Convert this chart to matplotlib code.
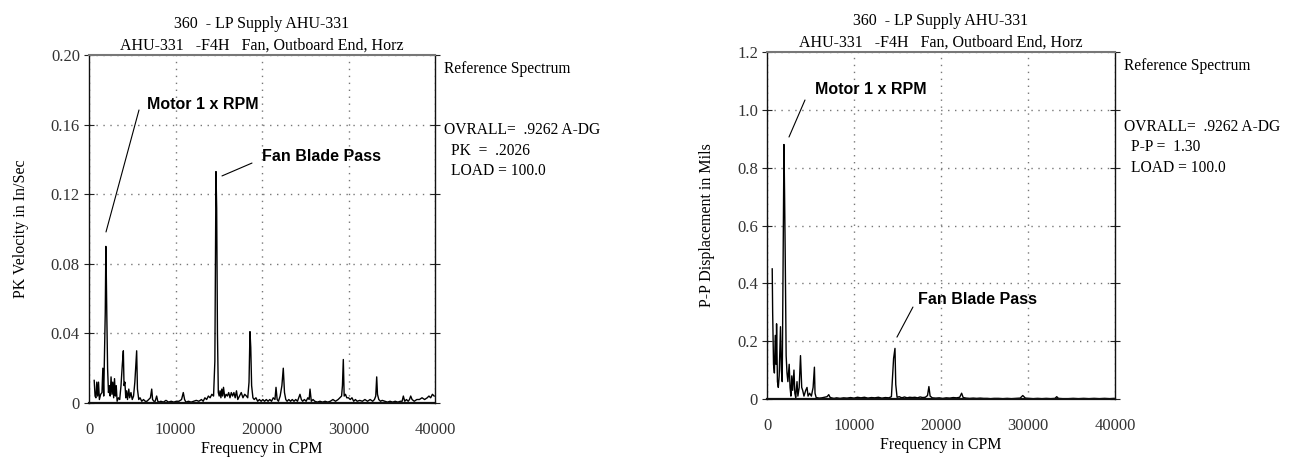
import numpy as np
import matplotlib
matplotlib.use("Agg")
import matplotlib.pyplot as plt

plt.rcParams['font.family'] = ['Liberation Serif', 'DejaVu Serif']

# ---- velocity spectrum (left) : (CPM, in/sec peak) ----
vel_points = [
    (600, 0.013), (700, 0.004), (800, 0.003), (900, 0.012), (1000, 0.004),
    (1100, 0.012), (1200, 0.002), (1350, 0.005), (1500, 0.006), (1600, 0.020),
    (1700, 0.004), (1800, 0.030), (1880, 0.052), (1950, 0.090), (2000, 0.074),
    (2060, 0.050), (2150, 0.020), (2250, 0.006), (2350, 0.010), (2450, 0.004),
    (2550, 0.015), (2650, 0.005), (2750, 0.012), (2850, 0.003), (2950, 0.014),
    (3050, 0.004), (3150, 0.010), (3250, 0.001), (3400, 0.003), (3550, 0.002),
    (3700, 0.010), (3850, 0.022), (3970, 0.030), (4050, 0.010), (4150, 0.012),
    (4250, 0.003), (4350, 0.007), (4450, 0.002), (4600, 0.008), (4700, 0.003),
    (4850, 0.006), (5000, 0.002), (5150, 0.004), (5300, 0.012), (5420, 0.022),
    (5510, 0.030), (5600, 0.008), (5750, 0.002), (5900, 0.003), (6100, 0.001),
    (6300, 0.002), (6500, 0.001), (6700, 0.001), (6900, 0.002), (7100, 0.003),
    (7250, 0.008), (7350, 0.002), (7500, 0.001), (7650, 0.001), (7820, 0.004),
    (7950, 0.001), (8100, 0.0005), (8300, 0.001), (8600, 0.0005), (8900, 0.0015),
    (9200, 0.0005), (9500, 0.001), (9800, 0.0005), (10100, 0.001), (10400, 0.001),
    (10700, 0.002), (10900, 0.006), (11050, 0.002), (11200, 0.0005), (11500, 0.001),
    (11800, 0.0005), (12100, 0.001), (12400, 0.0015), (12700, 0.001), (13000, 0.002),
    (13200, 0.001), (13400, 0.003), (13600, 0.002), (13800, 0.004), (14000, 0.003),
    (14200, 0.005), (14400, 0.004), (14550, 0.024), (14680, 0.133), (14760, 0.112),
    (14850, 0.040), (14950, 0.006), (15050, 0.004), (15150, 0.007), (15250, 0.003),
    (15350, 0.008), (15450, 0.004), (15550, 0.009), (15700, 0.003), (15850, 0.005),
    (16000, 0.004), (16150, 0.006), (16300, 0.003), (16450, 0.006), (16600, 0.004),
    (16750, 0.006), (16900, 0.003), (17050, 0.007), (17200, 0.002), (17400, 0.004),
    (17600, 0.006), (17800, 0.003), (18000, 0.005), (18200, 0.004), (18350, 0.003),
    (18500, 0.012), (18610, 0.041), (18700, 0.032), (18800, 0.010), (18950, 0.003),
    (19100, 0.002), (19300, 0.003), (19500, 0.001), (19700, 0.002), (19900, 0.001),
    (20100, 0.002), (20300, 0.001), (20500, 0.002), (20700, 0.001), (20900, 0.002),
    (21100, 0.001), (21300, 0.003), (21500, 0.002), (21620, 0.009), (21750, 0.002),
    (21900, 0.001), (22100, 0.004), (22300, 0.010), (22460, 0.020), (22600, 0.006),
    (22750, 0.002), (22900, 0.001), (23100, 0.002), (23300, 0.001), (23500, 0.002),
    (23700, 0.001), (23900, 0.002), (24100, 0.001), (24250, 0.003), (24390, 0.005),
    (24550, 0.002), (24700, 0.001), (24900, 0.002), (25100, 0.001), (25300, 0.003),
    (25450, 0.002), (25550, 0.008), (25700, 0.001), (25900, 0.002), (26100, 0.001),
    (26400, 0.0005), (26700, 0.001), (27000, 0.0005), (27300, 0.001), (27600, 0.0005),
    (27900, 0.001), (28200, 0.002), (28500, 0.001), (28800, 0.002), (29000, 0.003),
    (29200, 0.004), (29300, 0.010), (29400, 0.025), (29500, 0.004), (29650, 0.005),
    (29800, 0.003), (30000, 0.003), (30200, 0.002), (30400, 0.003), (30600, 0.001),
    (30800, 0.002), (31000, 0.001), (31300, 0.0015), (31600, 0.001), (31900, 0.002),
    (32200, 0.001), (32500, 0.002), (32800, 0.001), (33000, 0.002), (33150, 0.004),
    (33260, 0.015), (33350, 0.005), (33500, 0.002), (33700, 0.001), (33900, 0.0015),
    (34200, 0.001), (34500, 0.0005), (34800, 0.001), (35100, 0.0005), (35400, 0.001),
    (35700, 0.0005), (36000, 0.001), (36200, 0.001), (36340, 0.004), (36500, 0.001),
    (36700, 0.002), (36900, 0.001), (37050, 0.002), (37190, 0.004), (37350, 0.002),
    (37600, 0.001), (37900, 0.002), (38200, 0.002), (38500, 0.003), (38800, 0.002),
    (39100, 0.003), (39300, 0.004), (39500, 0.003), (39700, 0.005), (39900, 0.004),
]

# ---- displacement spectrum (right) : (CPM, mils p-p) ----
disp_points = [
    (600, 0.45), (650, 0.30), (750, 0.12), (850, 0.09), (950, 0.22),
    (1050, 0.12), (1100, 0.26), (1200, 0.06), (1300, 0.04), (1400, 0.08),
    (1550, 0.25), (1650, 0.10), (1750, 0.06), (1850, 0.49), (1950, 0.88),
    (2020, 0.71), (2100, 0.48), (2200, 0.15), (2300, 0.09), (2400, 0.06),
    (2550, 0.12), (2650, 0.04), (2750, 0.01), (2850, 0.08), (2950, 0.03),
    (3100, 0.10), (3200, 0.02), (3300, 0.005), (3450, 0.06), (3550, 0.01),
    (3700, 0.04), (3850, 0.15), (3990, 0.04), (4100, 0.03), (4250, 0.01),
    (4450, 0.03), (4600, 0.04), (4720, 0.01), (4900, 0.02), (5100, 0.01),
    (5300, 0.04), (5450, 0.11), (5520, 0.02), (5650, 0.005), (5800, 0.004),
    (6000, 0.003), (6300, 0.004), (6600, 0.006), (6900, 0.008), (7100, 0.015),
    (7240, 0.006), (7400, 0.004), (7700, 0.002), (8000, 0.004), (8400, 0.002),
    (8800, 0.004), (9200, 0.003), (9600, 0.005), (10000, 0.003), (10400, 0.006),
    (10800, 0.004), (11200, 0.006), (11600, 0.003), (12000, 0.005), (12400, 0.004),
    (12800, 0.006), (13200, 0.003), (13600, 0.005), (14000, 0.004), (14300, 0.008),
    (14550, 0.14), (14710, 0.175), (14800, 0.05), (14950, 0.006), (15200, 0.008),
    (15500, 0.004), (15800, 0.007), (16100, 0.004), (16400, 0.006), (16700, 0.005),
    (17000, 0.006), (17300, 0.004), (17600, 0.007), (17900, 0.005), (18200, 0.006),
    (18450, 0.012), (18610, 0.043), (18750, 0.010), (19000, 0.004), (19400, 0.003),
    (19800, 0.004), (20200, 0.002), (20600, 0.004), (21000, 0.003), (21400, 0.005),
    (21800, 0.004), (22150, 0.006), (22370, 0.020), (22550, 0.005), (22900, 0.003),
    (23300, 0.002), (23700, 0.003), (24100, 0.002), (24500, 0.003), (24900, 0.002),
    (25300, 0.002), (25700, 0.001), (26100, 0.002), (26600, 0.002), (27100, 0.001),
    (27600, 0.002), (28100, 0.001), (28600, 0.002), (29100, 0.003), (29400, 0.012),
    (29700, 0.003), (30100, 0.002), (30600, 0.001), (31100, 0.002), (31600, 0.001),
    (32100, 0.002), (32600, 0.001), (33100, 0.002), (33300, 0.008), (33500, 0.002),
    (34000, 0.001), (34600, 0.001), (35200, 0.002), (35800, 0.001), (36400, 0.002),
    (37000, 0.001), (37600, 0.002), (38200, 0.001), (38800, 0.002), (39400, 0.001),
    (39900, 0.002),
]

vel_ticks = [0, 0.04, 0.08, 0.12, 0.16, 0.20]
vel_ticklabels = ['0', '0.04', '0.08', '0.12', '0.16', '0.20']
disp_ticks = [0, 0.2, 0.4, 0.6, 0.8, 1.0, 1.2]
disp_ticklabels = ['0', '0.2', '0.4', '0.6', '0.8', '1.0', '1.2']
x_ticks = [0, 10000, 20000, 30000, 40000]

title1 = '360  - LP Supply AHU-331'
title2 = 'AHU-331   -F4H   Fan, Outboard End, Horz'

vel_cpm, vel_amp = zip(*vel_points)
disp_cpm, disp_amp = zip(*disp_points)

W, H = 1297, 462
fig = plt.figure(figsize=(W / 100, H / 100), dpi=100)
ax1 = fig.add_axes([89 / W, 1 - 403 / H, 346 / W, 348 / H])
ax2 = fig.add_axes([767 / W, 1 - 399 / H, 348 / W, 347 / H])


def style_axes(ax, yticks, ylabels, ymax, ylabel):
    ax.set_xlim(0, 40000)
    ax.set_ylim(0, ymax)
    ax.set_xticks(x_ticks)
    ax.set_xticklabels([str(t) for t in x_ticks])
    ax.set_yticks(yticks)
    ax.set_yticklabels(ylabels)
    ax.tick_params(axis='x', length=0, pad=14, labelsize=12, labelcolor='#333333')
    ax.tick_params(axis='y', direction='inout', length=7, width=0.8, pad=3,
                   labelsize=12, labelcolor='#333333', right=True, color='#222222')
    ax.grid(True, color='#777777', linestyle=(0, (1, 4)), linewidth=1)
    for s in ['left', 'right', 'bottom']:
        ax.spines[s].set_color('#111111')
        ax.spines[s].set_linewidth(1.0)
    ax.spines['bottom'].set_linewidth(1.6)
    ax.spines['top'].set_color('#777777')
    ax.spines['top'].set_linewidth(1.5)
    ax.set_xlabel('Frequency in CPM', fontsize=11.5, labelpad=2)
    ax.set_ylabel(ylabel, fontsize=11.5, labelpad=16)
    ax.set_title(title1 + '\n' + title2, fontsize=11.5, linespacing=1.45, pad=4)


style_axes(ax1, vel_ticks, vel_ticklabels, 0.2, 'PK Velocity in In/Sec')
style_axes(ax2, disp_ticks, disp_ticklabels, 1.2, 'P-P Displacement in Mils')

ax1.plot(vel_cpm, vel_amp, color='black', lw=1.0, clip_on=False)
ax2.plot(disp_cpm, disp_amp, color='black', lw=1.0, clip_on=False)

# side notes
bold = dict(fontfamily='Liberation Sans', fontweight='bold', fontsize=11.5)
ann_line = dict(arrowstyle='-', color='black', lw=0.8, shrinkA=0, shrinkB=0)

ax1.annotate('', xy=(1965, 0.0983), xytext=(5780, 0.1684), arrowprops=ann_line)
ax1.text(6705, 0.1713, 'Motor 1 x RPM', va='center', ha='left', **bold)
ax1.annotate('', xy=(15375, 0.1305), xytext=(18843, 0.1379), arrowprops=ann_line)
ax1.text(20000, 0.1414, 'Fan Blade Pass', va='center', ha='left', **bold)
ax2.annotate('', xy=(2528, 0.906), xytext=(4366, 1.034), arrowprops=ann_line)
ax2.text(5515, 1.0686, 'Motor 1 x RPM', va='center', ha='left', **bold)
ax2.annotate('', xy=(14937, 0.214), xytext=(16775, 0.318), arrowprops=ann_line)
ax2.text(17350, 0.3458, 'Fan Blade Pass', va='center', ha='left', **bold)

notes = [(ax1, 'PK  =  .2026'), (ax2, 'P-P =  1.30')]
for ax, pk in notes:
    ax.text(1.025, 0.96, 'Reference Spectrum', transform=ax.transAxes,
            fontsize=11.2, va='center', ha='left')
    ax.text(1.025, 0.785, 'OVRALL=  .9262 A-DG', transform=ax.transAxes,
            fontsize=11.2, va='center', ha='left')
    ax.text(1.047, 0.725, pk, transform=ax.transAxes,
            fontsize=11.2, va='center', ha='left')
    ax.text(1.047, 0.667, 'LOAD = 100.0', transform=ax.transAxes,
            fontsize=11.2, va='center', ha='left')

fig.savefig('out.png', dpi=100, facecolor='white')
